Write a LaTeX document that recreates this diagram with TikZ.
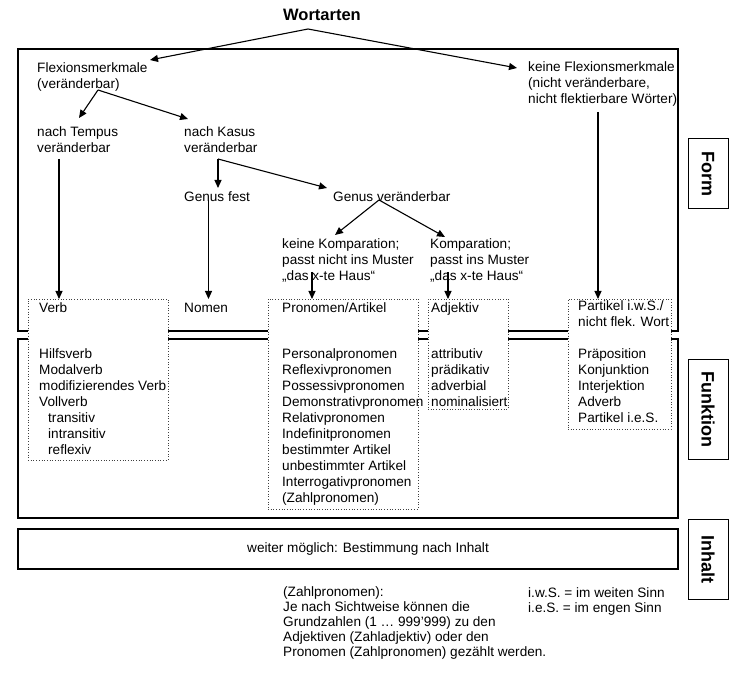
\documentclass[tikz,border=0pt]{standalone}
\usepackage{fontspec}
\setmainfont{Liberation Sans}
\usepackage{graphicx}
\usetikzlibrary{arrows.meta}
\newcommand\fsN{\fontsize{13.6}{15.9}\selectfont}
\newcommand\fsF{\fontsize{13.6}{15}\selectfont}
\begin{document}
\begin{tikzpicture}[x=1pt,y=-1pt,
  txt/.style={anchor=north west,inner sep=0pt,align=left,font=\fsN,execute at begin node=\strut},
  ftxt/.style={anchor=north west,inner sep=0pt,align=left,font=\fsF,execute at begin node=\strut},
  mainbox/.style={draw,line width=1.1pt,inner sep=0pt},
  dotbox/.style={draw=black!75,dotted,line width=0.7pt,fill=white,inner sep=0pt},
  lblbox/.style={draw,line width=1pt,inner sep=0pt,minimum width=40pt,font=\fontsize{18}{20}\selectfont\bfseries},
  arr/.style={line width=1.1pt,-{Triangle[length=8pt,width=7pt]}},
  ln/.style={line width=1.1pt}]
\useasboundingbox (0,0) rectangle (748,674);
% main boxes
\node[mainbox,minimum width=660pt,minimum height=282pt] (formBox) at (348,190) {};
\node[mainbox,minimum width=660pt,minimum height=179pt] (funkBox) at (348,428.5) {};
\node[mainbox,minimum width=660pt,minimum height=40pt] (inhBox) at (348,549) {};
% side labels
\node[lblbox,minimum height=70pt] (formLbl) at (708,174) {\rotatebox{-90}{Form}};
\node[lblbox,minimum height=100pt] (funkLbl) at (708,409) {\rotatebox{-90}{Funktion}};
\node[lblbox,minimum height=80pt] (inhLbl) at (708,559) {\rotatebox{-90}{Inhalt}};
% dotted boxes
\node[dotbox,minimum width=140pt,minimum height=161pt] (verbBox) at (98,379.5) {};
\node[dotbox,minimum width=150pt,minimum height=210pt] (pronBox) at (343,404) {};
\node[dotbox,minimum width=80pt,minimum height=110pt] (adjBox) at (468,354) {};
\node[dotbox,minimum width=103pt,minimum height=130pt] (partBox) at (619.5,364) {};
% title
\node[anchor=base west,inner sep=0pt,font=\fontsize{16.5}{18}\selectfont\bfseries] (wort) at (283,21) {Wortarten};
% texts
\node[txt] (flex) at (37,62.4) {Flexionsmerkmale\\(veränderbar)};
\node[txt] (keineF) at (528,61.9) {keine Flexionsmerkmale\\(nicht veränderbare,\\nicht flektierbare Wörter)};
\node[txt] (tempus) at (37,126.2) {nach Tempus\\veränderbar};
\node[txt] (kasus) at (184,126.2) {nach Kasus\\veränderbar};
\node[txt] (gfest) at (184,189.9) {Genus fest};
\node[txt] (gver) at (333,189.9) {Genus veränderbar};
\node[txt] (keineK) at (282,238.9) {keine Komparation;\\passt nicht ins Muster\\„das x-te Haus“};
\node[txt] (komp) at (430,238.9) {Komparation;\\passt ins Muster\\„das x-te Haus“};
\node[txt] (verbT) at (39,300.9) {Verb};
\node[txt] (verbL) at (39,348.9) {Hilfsverb\\Modalverb\\modifizierendes Verb\\Vollverb\\\hspace*{9pt}transitiv\\\hspace*{9pt}intransitiv\\\hspace*{9pt}reflexiv};
\node[txt] (nomen) at (184,300.9) {Nomen};
\node[txt] (pronT) at (282,300.9) {Pronomen/Artikel};
\node[txt] (pronL) at (282,348.9) {Personalpronomen\\Reflexivpronomen\\Possessivpronomen\\Demonstrativpronomen\\Relativpronomen\\Indefinitpronomen\\bestimmter Artikel\\unbestimmter Artikel\\Interrogativpronomen\\(Zahlpronomen)};
\node[txt] (adjT) at (431,300.9) {Adjektiv};
\node[txt] (adjL) at (431,348.9) {attributiv\\prädikativ\\adverbial\\nominalisiert};
\node[txt] (partT) at (578,300.9) {Partikel i.w.S./\\nicht flek. Wort};
\node[txt] (partL) at (578,348.9) {Präposition\\Konjunktion\\Interjektion\\Adverb\\Partikel i.e.S.};
\node[txt] (weiter) at (247,540.9) {weiter möglich: Bestimmung nach Inhalt};
\node[ftxt] (footL) at (283,586.5) {(Zahlpronomen):\\Je nach Sichtweise können die\\Grundzahlen (1 … 999’999) zu den\\Adjektiven (Zahladjektiv) oder den\\Pronomen (Zahlpronomen) gezählt werden.};
\node[ftxt] (footR) at (528,587.5) {i.w.S. = im weiten Sinn\\i.e.S. = im engen Sinn};
% connector points
\coordinate (wA) at (308,29);
\coordinate (flexTip) at (150,60);
\coordinate (keineFTip) at (517,68);
\coordinate (fA) at (98,90);
\coordinate (tempusTip) at (79,118);
\coordinate (kasusTip) at (188,119);
\coordinate (tempusS) at (59,159);
\coordinate (verbTip) at (59,299);
\coordinate (kA) at (218,159);
\coordinate (gfestTip) at (218,188);
\coordinate (gverTip) at (327,188);
\coordinate (gfestS) at (208.5,200);
\coordinate (nomenTip) at (208.5,299);
\coordinate (gA) at (379,200);
\coordinate (keineKTip) at (335,235);
\coordinate (kompTip) at (445,237);
\coordinate (keineKS) at (312,272);
\coordinate (pronTip) at (312,299);
\coordinate (kompS) at (448,272);
\coordinate (adjTip) at (448,299);
\coordinate (keineFS) at (598,112);
\coordinate (partTip) at (598,299);
% connectors
\draw[arr] (wA) -- (flexTip);
\draw[arr] (wA) -- (keineFTip);
\draw[arr] (fA) -- (tempusTip);
\draw[arr] (fA) -- (kasusTip);
\draw[arr] (tempusS) -- (verbTip);
\draw[arr] (kA) -- (gfestTip);
\draw[arr] (kA) -- (gverTip);
\draw[arr] (gfestS) -- (nomenTip);
\draw[arr] (gA) -- (keineKTip);
\draw[arr] (gA) -- (kompTip);
\draw[arr] (keineKS) -- (pronTip);
\draw[arr] (kompS) -- (adjTip);
\draw[arr] (keineFS) -- (partTip);
\end{tikzpicture}
\end{document}
